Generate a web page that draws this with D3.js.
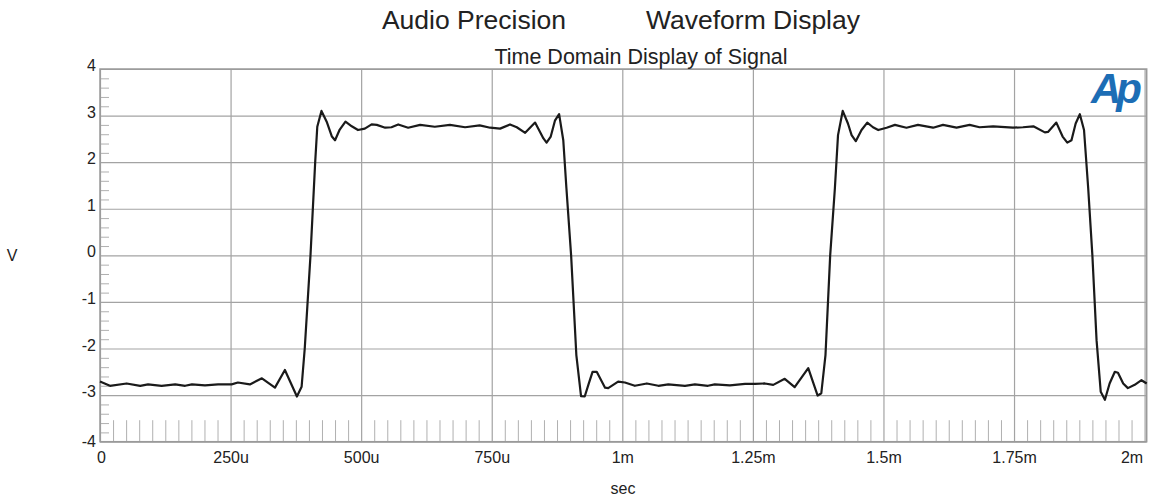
<!DOCTYPE html>
<html>
<head>
<meta charset="utf-8">
<script src="https://cdn.jsdelivr.net/npm/d3@7"></script>
<style>
  html, body { margin: 0; padding: 0; background: #fff; }
  svg { display: block; font-family: "Liberation Sans", Arial, sans-serif; }
</style>
</head>
<body>
<svg id="chart" width="1153" height="498"></svg>
<script>
// ---- data (time in microseconds, amplitude in volts) ----
const timeUs = [
  0, 19, 51, 77, 92, 118, 144, 163, 176, 201, 226, 252, 264, 287, 310, 335, 354, 377, 386, 392,
  403, 412, 416, 424, 434, 444, 450, 459, 470, 482, 494, 507, 520, 530, 546, 558, 571, 590, 613, 641,
  670, 699, 727, 747, 766, 785, 798, 814, 833, 849, 855, 863, 871, 879, 887, 893, 902, 912, 921, 928,
  935, 943, 951, 967, 973, 992, 1005, 1024, 1047, 1069, 1088, 1120, 1139, 1164, 1177, 1206, 1235, 1254, 1273, 1289,
  1311, 1330, 1356, 1374, 1381, 1389, 1398, 1407, 1413, 1422, 1432, 1439, 1447, 1458, 1469, 1480, 1490, 1506, 1522, 1544,
  1566, 1595, 1614, 1640, 1665, 1684, 1710, 1748, 1767, 1787, 1809, 1815, 1831, 1843, 1852, 1860, 1868, 1876, 1884, 1892,
  1900, 1908, 1916, 1924, 1933, 1943, 1949, 1959, 1968, 1981, 1994, 2004
];
const volts = [
  -2.71, -2.80, -2.75, -2.80, -2.77, -2.80, -2.77, -2.80, -2.77, -2.79, -2.77, -2.77, -2.73, -2.77, -2.64, -2.84, -2.46, -3.03, -2.82, -2.00,
  0.00, 2.00, 2.76, 3.10, 2.87, 2.55, 2.47, 2.70, 2.87, 2.77, 2.69, 2.72, 2.81, 2.80, 2.74, 2.75, 2.81, 2.74, 2.80, 2.76,
  2.80, 2.75, 2.79, 2.74, 2.72, 2.81, 2.75, 2.63, 2.85, 2.51, 2.42, 2.55, 2.89, 3.03, 2.47, 1.44, 0.00, -2.14, -3.02, -3.03,
  -2.78, -2.50, -2.50, -2.84, -2.85, -2.71, -2.73, -2.80, -2.75, -2.80, -2.77, -2.80, -2.77, -2.80, -2.77, -2.79, -2.76, -2.76, -2.75, -2.78,
  -2.65, -2.83, -2.42, -3.01, -2.96, -2.14, 0.00, 1.44, 2.58, 3.10, 2.83, 2.58, 2.45, 2.69, 2.85, 2.75, 2.69, 2.74, 2.80, 2.74,
  2.80, 2.74, 2.80, 2.74, 2.80, 2.75, 2.77, 2.74, 2.75, 2.77, 2.64, 2.65, 2.85, 2.55, 2.42, 2.47, 2.83, 3.03, 2.69, 1.44,
  0.00, -1.82, -2.93, -3.10, -2.75, -2.50, -2.52, -2.75, -2.85, -2.78, -2.68, -2.75
];
const xTickValues = [0, 250, 500, 750, 1000, 1250, 1500, 1750, 2000];
const xTickLabels = ["0", "250u", "500u", "750u", "1m", "1.25m", "1.5m", "1.75m", "2m"];
const yTickValues = [-4, -3, -2, -1, 0, 1, 2, 3, 4];
const yTickLabels = ["-4", "-3", "-2", "-1", "0", "1", "2", "3", "4"];
const titleLeft = "Audio Precision";
const titleRight = "Waveform Display";
const subTitle = "Time Domain Display of Signal";
const xAxisTitle = "sec";
const yAxisTitle = "V";
const logoText = "Ap";

// ---- layout ----
const L = 100, R = 1146.7, T = 69, B = 441.7;
const svg = d3.select("#chart");
const x = d3.scaleLinear().domain([0, 2004]).range([L, R]);
const y = d3.scaleLinear().domain([-4, 4]).range([B, T]);
const gridColor = "#a3a3a3";

// minor ticks (x: every 25u, y: every 0.2 V)
const xMinor = d3.range(0, 2001, 25).filter(v => v % 250 !== 0);
const yMinor = d3.range(-40, 41, 2).map(v => v / 10).filter(v => Math.abs(v - Math.round(v)) > 1e-6);

const gxMinor = svg.append("g").attr("transform", `translate(0,${B})`)
  .call(d3.axisBottom(x).tickValues(xMinor).tickSize(-21.5).tickFormat(""));
gxMinor.select(".domain").remove();
gxMinor.selectAll("line").attr("stroke", "#b0b0b0").attr("stroke-width", 1);

const gyMinor = svg.append("g").attr("transform", `translate(${L},0)`)
  .call(d3.axisLeft(y).tickValues(yMinor).tickSize(-9).tickFormat(""));
gyMinor.select(".domain").remove();
gyMinor.selectAll("line").attr("stroke", "#b0b0b0").attr("stroke-width", 1);

// grid lines
const gxGrid = svg.append("g").attr("transform", `translate(0,${B})`)
  .call(d3.axisBottom(x).tickValues(xTickValues).tickSize(-(B - T)).tickFormat(""));
gxGrid.select(".domain").remove();
gxGrid.selectAll("line").attr("stroke", gridColor).attr("stroke-width", 1.2);

const gyGrid = svg.append("g").attr("transform", `translate(${L},0)`)
  .call(d3.axisLeft(y).tickValues(yTickValues).tickSize(-(R - L)).tickFormat(""));
gyGrid.select(".domain").remove();
gyGrid.selectAll("line").attr("stroke", gridColor).attr("stroke-width", 1.2);

// frame
svg.append("rect").attr("x", L).attr("y", T).attr("width", R - L).attr("height", B - T)
  .attr("fill", "none").attr("stroke", "#9a9a9a").attr("stroke-width", 1.5);

// axis labels
const gx = svg.append("g").attr("transform", `translate(0,${B})`)
  .call(d3.axisBottom(x).tickValues(xTickValues).tickSize(0).tickPadding(10)
    .tickFormat((d, i) => xTickLabels[i]));
gx.select(".domain").remove();
gx.selectAll("text").attr("font-size", 16).attr("fill", "#222")
  .attr("font-family", "'Liberation Sans', Arial, sans-serif")
  .attr("text-anchor", (d, i) => i === xTickValues.length - 1 ? "end" : "middle")
  .attr("dx", (d, i) => i === xTickValues.length - 1 ? -2 : (i === 0 ? 1 : 0));

const gy = svg.append("g").attr("transform", `translate(${L},0)`)
  .call(d3.axisLeft(y).tickValues(yTickValues).tickSize(0).tickPadding(4)
    .tickFormat((d, i) => yTickLabels[i]));
gy.select(".domain").remove();
gy.selectAll("text").attr("font-size", 16).attr("fill", "#222")
  .attr("font-family", "'Liberation Sans', Arial, sans-serif")
  .attr("dy", (d) => d === -4 ? "0.32em" : "0.1em");

// waveform
const pts = timeUs.map((t, i) => [t, volts[i]]);
svg.append("path").datum(pts)
  .attr("fill", "none").attr("stroke", "#1a1a1a").attr("stroke-width", 2.2)
  .attr("stroke-linejoin", "round")
  .attr("d", d3.line().x(d => x(d[0])).y(d => y(d[1])));

// titles
svg.append("text").attr("x", 474).attr("y", 29).attr("text-anchor", "middle")
  .attr("font-size", 26.5).attr("fill", "#222").text(titleLeft);
svg.append("text").attr("x", 753).attr("y", 29).attr("text-anchor", "middle")
  .attr("font-size", 26.5).attr("fill", "#222").text(titleRight);
svg.append("text").attr("x", 641).attr("y", 64).attr("text-anchor", "middle")
  .attr("font-size", 21.5).attr("fill", "#222").text(subTitle);
svg.append("text").attr("x", 623).attr("y", 494).attr("text-anchor", "middle")
  .attr("font-size", 16).attr("fill", "#222").text(xAxisTitle);
svg.append("text").attr("x", 12).attr("y", 261).attr("text-anchor", "middle")
  .attr("font-size", 16).attr("fill", "#222").text(yAxisTitle);

// logo
svg.append("text").attr("x", 1091).attr("y", 103)
  .attr("font-size", 42).attr("font-weight", "bold").attr("font-style", "italic")
  .attr("letter-spacing", -5).attr("fill", "#1c6db5").text(logoText);
</script>
</body>
</html>
